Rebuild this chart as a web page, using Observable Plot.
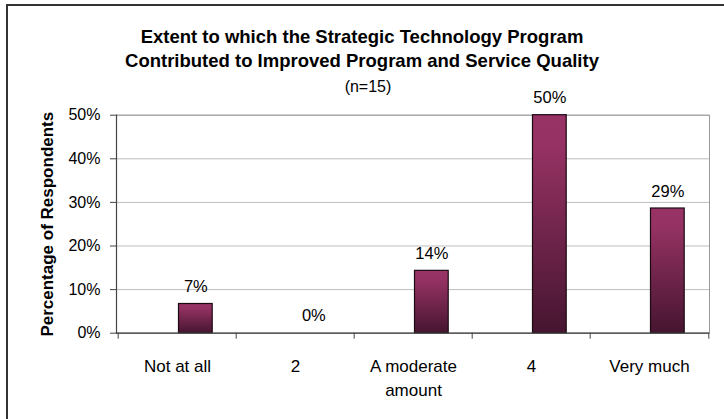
<!DOCTYPE html>
<html>
<head>
<meta charset="utf-8">
<script src="https://cdn.jsdelivr.net/npm/d3@7"></script>
<script src="https://cdn.jsdelivr.net/npm/@observablehq/plot@0.6"></script>
<style>
  html, body { margin: 0; padding: 0; background: #fff; overflow: hidden; }
  #wrap { position: relative; width: 724px; height: 419px; overflow: hidden; font-family: "Liberation Sans", Arial, sans-serif; }
  #border { position: absolute; left: 6px; top: 4px; width: 800px; height: 500px; border-left: 2px solid #333; border-top: 2px solid #333; }
  .title { position: absolute; left: 0; width: 724px; text-align: center; color: #000; white-space: nowrap; line-height: 1; }
  #t1 { top: 27.5px; font-size: 18.5px; font-weight: bold; }
  #t2 { top: 51.5px; font-size: 18.5px; font-weight: bold; }
  #t3 { top: 78.5px; font-size: 16px; left: 6px; }
  #chart { position: absolute; left: 0; top: 0; }
</style>
</head>
<body>
<div id="wrap">
  <div id="border"></div>
  <div id="chart"></div>
  <div class="title" id="t1"></div>
  <div class="title" id="t2"></div>
  <div class="title" id="t3"></div>
</div>
<script>
const titleLines = ["Extent to which the Strategic Technology Program", "Contributed to Improved Program and Service Quality"];
const subtitle = "(n=15)";
const yAxisTitle = "Percentage of Respondents";
const categories = ["Not at all", "2", "A moderate\namount", "4", "Very much"];
const values = [6.7, 0, 14.3, 50, 28.6];
const yTicks = [0, 10, 20, 30, 40, 50];

document.getElementById("t1").textContent = titleLines[0];
document.getElementById("t2").textContent = titleLines[1];
document.getElementById("t3").textContent = subtitle;

const data = categories.map((c, i) => ({cat: c, pct: values[i]}));

const W = 724, H = 419;
const mL = 116, mR = 15, mT = 114.7, mB = 419 - 332.7;
const band = (W - mL - mR) / categories.length;
const barL = 60.5, barW = 34.3;

const chart = Plot.plot({
  width: W,
  height: H,
  marginLeft: mL,
  marginRight: mR,
  marginTop: mT,
  marginBottom: mB,
  style: {fontFamily: "'Liberation Sans', Arial, sans-serif", background: "transparent", overflow: "visible"},
  x: {type: "band", domain: categories, padding: 0, label: null},
  y: {domain: [0, 50], label: null},
  marks: [
    Plot.gridY(yTicks, {stroke: "#bdbdbd", strokeOpacity: 1}),
    Plot.frame({stroke: "#999"}),
    Plot.barY(data, {x: "cat", y: "pct", insetLeft: barL, insetRight: band - barL - barW, fill: "url(#barGrad)", stroke: "#1c0a12", strokeWidth: 1.2}),
    Plot.ruleY([0], {stroke: "#444", strokeWidth: 1.2}),
    Plot.frame({anchor: "left", stroke: "#444", strokeWidth: 1.2}),
    Plot.axisY(yTicks, {tickSize: 6, tickPadding: 10, tickFormat: d => d + "%", fontSize: 16, stroke: "#444", fill: "#000"}),
    Plot.axisY({ticks: [], label: yAxisTitle, labelAnchor: "center", labelArrow: "none", labelOffset: 76, fontSize: 17, fontWeight: "bold", fill: "#000"}),
    Plot.axisX({tickSize: 6, tickFormat: () => "", dx: -band / 2, stroke: "#444"}),
    Plot.axisX([categories[categories.length - 1]], {tickSize: 6, tickFormat: () => "", dx: band / 2, stroke: "#444"}),
    Plot.axisX({tickSize: 0, tickPadding: 22, fontSize: 17, fill: "#000", lineHeight: 1.41}),
    Plot.text(data, {x: "cat", y: "pct", text: d => Math.round(d.pct) + "%", dx: barL + barW / 2 - band / 2, dy: -17, fontSize: 16.5, fill: "#000"})
  ]
});

const svg = d3.select(chart);
const defs = svg.insert("defs", ":first-child");
const g = defs.append("linearGradient").attr("id", "barGrad").attr("x1", 0).attr("y1", 0).attr("x2", 0).attr("y2", 1);
g.append("stop").attr("offset", "0%").attr("stop-color", "#993366");
g.append("stop").attr("offset", "15%").attr("stop-color", "#953263");
g.append("stop").attr("offset", "100%").attr("stop-color", "#461530");

document.getElementById("chart").appendChild(chart);
</script>
</body>
</html>
